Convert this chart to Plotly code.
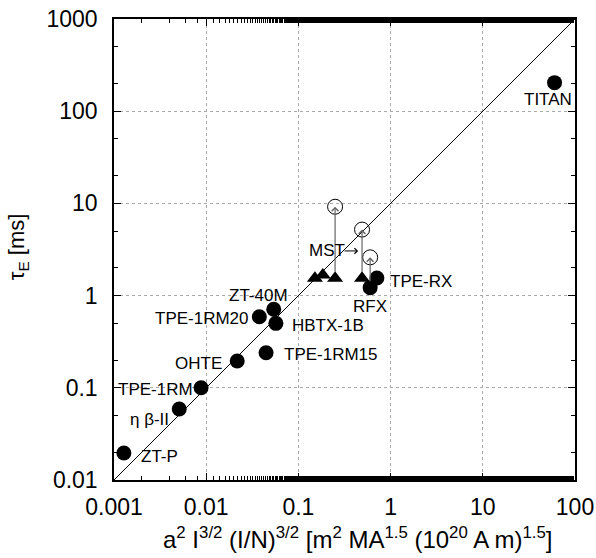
import numpy as np
import plotly.graph_objects as go

# ---- data ----
dev_names = ["ZT-P", "η β-II", "TPE-1RM", "OHTE", "TPE-1RM20", "ZT-40M",
             "HBTX-1B", "TPE-1RM15", "RFX", "TPE-RX", "TITAN"]
dev_x = [0.00128, 0.0051, 0.0088, 0.0217, 0.0377, 0.054, 0.057, 0.0446, 0.60, 0.71, 60.0]
dev_tau = [0.0196, 0.059, 0.10, 0.195, 0.59, 0.71, 0.50, 0.24, 1.22, 1.55, 204.0]

mst_x = [0.151, 0.184, 0.25, 0.49]
mst_tau = [1.54, 1.67, 1.54, 1.54]

open_x = [0.25, 0.49, 0.60]
open_tau = [9.2, 5.2, 2.6]

# arrows: from measured (x0, y0) to improved (x1, y1)
arrow_x0 = [0.25, 0.49, 0.60]
arrow_y0 = [1.54, 1.54, 1.22]
arrow_x1 = [0.25, 0.49, 0.60]
arrow_y1 = [9.2, 5.2, 2.6]

fit_x = [0.001, 100.0]
fit_tau = [0.01, 1000.0]

x_tickvals = [0.001, 0.01, 0.1, 1, 10, 100]
x_ticktext = ["0.001", "0.01", "0.1", "1", "10", "100"]
y_tickvals = [0.01, 0.1, 1, 10, 100, 1000]
y_ticktext = ["0.01", "0.1", "1", "10", "100", "1000"]

# label offsets in pixels (dx right, dy down)
label_dx = [36, -30, -46, -39, -57, -15, 52, 65, 0, 44, -7]
label_dy = [3, 11, 2, 2, 2, -14, 2, 2, 19, 3, 17]

FONT = "Liberation Sans, Arial, Helvetica, sans-serif"

fig = go.Figure()
fig.add_trace(go.Scatter(x=fit_x, y=fit_tau, mode="lines",
                         line=dict(color="black", width=1), showlegend=False))
fig.add_trace(go.Scatter(x=open_x, y=open_tau, mode="markers",
                         marker=dict(symbol="circle-open", size=15,
                                     color="black", line=dict(width=1)),
                         showlegend=False))
fig.add_trace(go.Scatter(x=mst_x, y=mst_tau, mode="markers",
                         marker=dict(symbol="triangle-up", size=14, color="black"),
                         showlegend=False))
fig.add_trace(go.Scatter(x=dev_x, y=dev_tau, mode="markers",
                         marker=dict(symbol="circle", size=15, color="black"),
                         showlegend=False))

ann = []
for n, x, y, dx, dy in zip(dev_names, dev_x, dev_tau, label_dx, label_dy):
    ann.append(dict(x=np.log10(x), y=np.log10(y), xref="x", yref="y",
                    text=n, showarrow=False, xshift=dx, yshift=-dy,
                    xanchor="center", yanchor="middle",
                    font=dict(family=FONT, size=17, color="black")))

for x0, y0, x1, y1 in zip(arrow_x0, arrow_y0, arrow_x1, arrow_y1):
    ann.append(dict(x=np.log10(x1), y=np.log10(y1), ax=np.log10(x0), ay=np.log10(y0),
                    xref="x", yref="y", axref="x", ayref="y", text="",
                    showarrow=True, arrowhead=4, arrowsize=1.1, arrowwidth=1.2,
                    arrowcolor="#666666", startstandoff=5))

# MST label and pointer
mst_label_x, mst_label_y = 0.205, 3.05
mst_arrow_x0, mst_arrow_x1 = 0.305, 0.445
ann.append(dict(x=np.log10(mst_label_x), y=np.log10(mst_label_y), xref="x", yref="y",
                text="MST", showarrow=False, xanchor="center", yanchor="middle",
                font=dict(family=FONT, size=17, color="black")))
ann.append(dict(x=np.log10(mst_arrow_x1), y=np.log10(mst_label_y),
                ax=np.log10(mst_arrow_x0), ay=np.log10(mst_label_y),
                xref="x", yref="y", axref="x", ayref="y", text="",
                showarrow=True, arrowhead=4, arrowsize=1.1, arrowwidth=1,
                arrowcolor="black"))

# axis titles
ann.append(dict(x=0.528, y=-0.125, xref="paper", yref="paper", showarrow=False,
                text="a<sup>2</sup> I<sup>3/2</sup> (I/N)<sup>3/2</sup> [m<sup>2</sup> MA<sup>1.5</sup> (10<sup>20</sup> A m)<sup>1.5</sup>]",
                xanchor="center", yanchor="middle",
                font=dict(family=FONT, size=24, color="black")))
ann.append(dict(x=-0.208, y=0.505, xref="paper", yref="paper", showarrow=False,
                text="τ<sub>E</sub> [ms]", textangle=-90,
                xanchor="center", yanchor="middle",
                font=dict(family=FONT, size=22, color="black")))

axis_common = dict(
    type="log", showline=True, linecolor="black", linewidth=1.5, mirror="allticks",
    ticks="inside", ticklen=7, tickwidth=1, tickcolor="black", automargin=False,
    showgrid=True, gridcolor="#aaaaaa", griddash="dot", gridwidth=1,
    zeroline=False, ticklabeloverflow="allow",
    tickfont=dict(family=FONT, size=23, color="black"),
    minor=dict(ticks="inside", ticklen=4, tickwidth=1, tickcolor="black", showgrid=False),
)

fig.update_layout(
    width=596, height=558,
    margin=dict(l=114, r=21, t=19, b=78),
    paper_bgcolor="white", plot_bgcolor="white",
    xaxis=dict(range=[-3, 2], tickmode="array", tickvals=x_tickvals, ticktext=x_ticktext,
               ticklabelstandoff=6, **axis_common),
    yaxis=dict(range=[-2, 3], tickmode="array", tickvals=y_tickvals, ticktext=y_ticktext,
               ticklabelstandoff=10, **axis_common),
    annotations=ann,
)

fig.write_html("out.html", config={"displayModeBar": False},
               post_script="document.body.style.margin='0px';document.body.style.overflow='hidden';")
